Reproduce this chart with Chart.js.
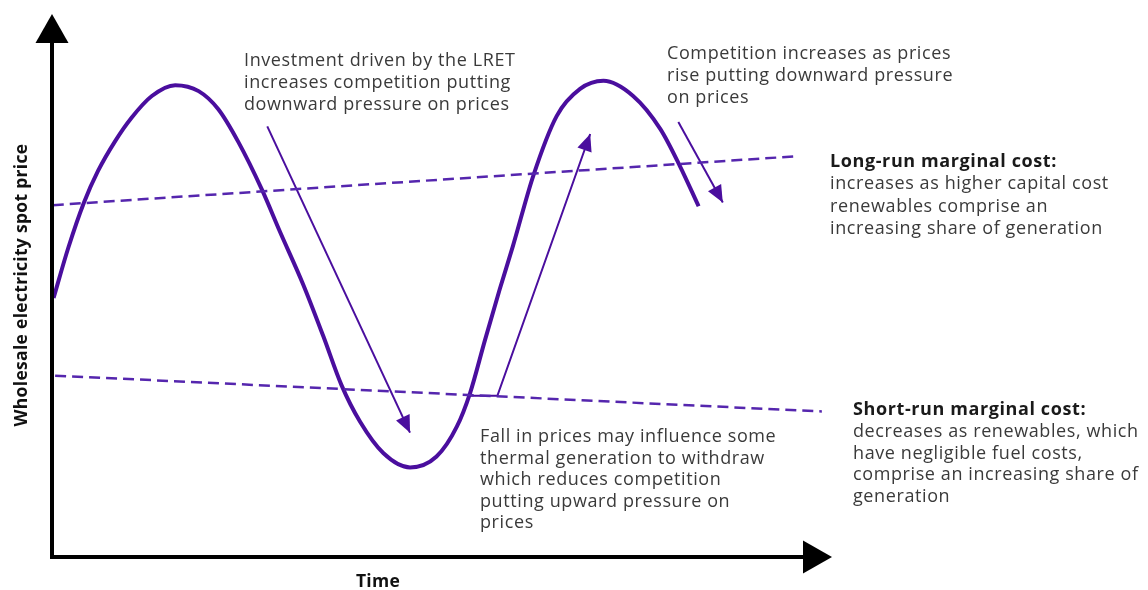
<!DOCTYPE html>
<html><head><meta charset="utf-8">
<script src="https://cdn.jsdelivr.net/npm/chart.js@4"></script>
<style>html,body{margin:0;padding:0;background:#fff;}#wrap{width:1148px;height:590px;position:relative;}</style>
</head><body><div id="wrap"><canvas id="c" width="1148" height="590"></canvas></div>
<script>
// Wholesale spot price cycle (time 0-100, price index 0-100)
const timeX     = [0.2, 2.1, 4.1, 5.9, 8.1, 10.2, 12.8, 15.8, 18.8, 21.3, 23.9, 26.9, 29.2, 32.2, 34.8, 37.1, 39.5, 42.5, 45.9, 49.3, 51.9, 53.6, 55.5, 57.4, 59.1, 61.7, 64.7, 67.7, 70.7, 74.5, 78.0, 80.5, 82.9];
const spotPrice = [47.7, 57.0, 65.3, 71.1, 76.6, 80.9, 84.9, 86.9, 85.8, 82.5, 76.4, 67.7, 60.0, 50.2, 40.6, 31.7, 24.9, 19.1, 16.5, 18.5, 24.0, 30.2, 39.9, 49.3, 57.3, 70.2, 81.2, 86.2, 87.7, 84.9, 78.8, 72.0, 64.6];
// Long-run and short-run marginal cost lines
const lrmcX = [0.1, 95.5];
const lrmcY = [64.8, 73.8];
const srmcX = [0.4, 98.7];
const srmcY = [33.4, 26.8];
// Explanatory arrows
const arrowDownX = [27.6, 45.9];
const arrowDownY = [79.3, 22.9];
const arrowUpX   = [53.6, 57.1, 69.0];
const arrowUpY   = [29.7, 29.7, 77.9];
const arrowEndX  = [80.3, 86.0];
const arrowEndY  = [80.1, 65.3];
// Text
const xTitle = 'Time';
const yTitle = 'Wholesale electricity spot price';
const noteLret = ['Investment driven by the LRET', 'increases competition putting', 'downward pressure on prices'];
const noteRise = ['Competition increases as prices', 'rise putting downward pressure', 'on prices'];
const noteLong = ['Long-run marginal cost:', 'increases as higher capital cost', 'renewables comprise an', 'increasing share of generation'];
const noteShort = ['Short-run marginal cost:', 'decreases as renewables, which', 'have negligible fuel costs,', 'comprise an increasing share of', 'generation'];
const noteFall = ['Fall in prices may influence some', 'thermal generation to withdraw', 'which reduces competition', 'putting upward pressure on', 'prices'];

const pts = (xs, ys) => xs.map((x, i) => ({x: x, y: ys[i]}));
const PURPLE = '#4a0e9e';
const DASH = '#5526ae';

const arrowHeads = {
  id: 'arrowHeads',
  afterDatasetsDraw(chart) {
    const ctx = chart.ctx;
    chart.data.datasets.forEach((ds, i) => {
      if (!ds.arrow) return;
      const pts = chart.getDatasetMeta(i).data;
      const a = pts[pts.length - 2], b = pts[pts.length - 1];
      const ang = Math.atan2(b.y - a.y, b.x - a.x);
      const L = 17, W = 7.5;
      ctx.save();
      ctx.fillStyle = ds.borderColor;
      ctx.beginPath();
      ctx.moveTo(b.x, b.y);
      ctx.lineTo(b.x - L * Math.cos(ang) + W * Math.sin(ang), b.y - L * Math.sin(ang) - W * Math.cos(ang));
      ctx.lineTo(b.x - L * Math.cos(ang) - W * Math.sin(ang), b.y - L * Math.sin(ang) + W * Math.cos(ang));
      ctx.closePath();
      ctx.fill();
      ctx.restore();
    });
  }
};

const frame = {
  id: 'frame',
  afterDraw(chart, args, o) {
    const ctx = chart.ctx, ca = chart.chartArea;
    ctx.save();
    ctx.strokeStyle = '#000'; ctx.fillStyle = '#000'; ctx.lineWidth = 4;
    const hl = 29, hw = 16.5;
    ctx.beginPath();
    ctx.moveTo(ca.left, ca.bottom + 2); ctx.lineTo(ca.left, ca.top + hl);
    ctx.moveTo(ca.left - 2, ca.bottom); ctx.lineTo(ca.right - hl, ca.bottom);
    ctx.stroke();
    ctx.beginPath();
    ctx.moveTo(ca.left, ca.top); ctx.lineTo(ca.left - hw, ca.top + hl); ctx.lineTo(ca.left + hw, ca.top + hl); ctx.closePath(); ctx.fill();
    ctx.beginPath();
    ctx.moveTo(ca.right, ca.bottom); ctx.lineTo(ca.right - hl, ca.bottom - hw); ctx.lineTo(ca.right - hl, ca.bottom + hw); ctx.closePath(); ctx.fill();
    // axis titles
    ctx.fillStyle = '#111';
    ctx.font = '700 17.5px "Open Sans"';
    ctx.textAlign = 'center'; ctx.textBaseline = 'middle';
    ctx.letterSpacing = '0.3px';
    ctx.fillText(xTitle, o.xTitleX, o.xTitleY);
    ctx.save();
    ctx.translate(o.yTitleX, o.yTitleY); ctx.rotate(-Math.PI / 2);
    ctx.fillText(yTitle, 0, 0);
    ctx.restore();
    // notes
    ctx.textAlign = 'left'; ctx.textBaseline = 'alphabetic';
    ctx.letterSpacing = o.spacing;
    o.notes.forEach(n => {
      n.lines.forEach((t, k) => {
        const bold = n.heading && k === 0;
        ctx.font = (bold ? '700 ' : '400 ') + o.size + 'px "Open Sans"';
        ctx.fillStyle = bold ? '#1a1a1a' : '#3a3a3a';
        ctx.fillText(t, n.x, n.y + k * n.lh);
      });
    });
    ctx.restore();
  }
};

new Chart(document.getElementById('c'), {
  type: 'line',
  data: {
    datasets: [
      {data: pts(lrmcX, lrmcY), borderColor: DASH, borderWidth: 2.5, borderDash: [11, 6], tension: 0},
      {data: pts(srmcX, srmcY), borderColor: DASH, borderWidth: 2.5, borderDash: [11, 6], tension: 0},
      {data: pts(timeX, spotPrice), borderColor: PURPLE, borderWidth: 4, cubicInterpolationMode: 'monotone', borderJoinStyle: 'round'},
      {data: pts(arrowDownX, arrowDownY), borderColor: PURPLE, borderWidth: 2, tension: 0, arrow: true},
      {data: pts(arrowUpX, arrowUpY), borderColor: PURPLE, borderWidth: 2, tension: 0, arrow: true},
      {data: pts(arrowEndX, arrowEndY), borderColor: PURPLE, borderWidth: 2, tension: 0, arrow: true}
    ]
  },
  options: {
    responsive: false, devicePixelRatio: 1, animation: false,
    layout: {padding: {left: 52, top: 14, right: 316, bottom: 33}},
    elements: {point: {radius: 0, hoverRadius: 0}, line: {borderCapStyle: 'butt', fill: false}},
    scales: {
      x: {type: 'linear', min: 0, max: 100, display: false},
      y: {type: 'linear', min: 0, max: 100, display: false}
    },
    plugins: {
      legend: {display: false}, tooltip: {enabled: false},
      frame: {
        xTitleX: 378, xTitleY: 582, yTitleX: 22, yTitleY: 285,
        size: 18, spacing: '0.6px',
        notes: [
          {lines: noteLret, x: 244, y: 66, lh: 22},
          {lines: noteRise, x: 667, y: 59, lh: 22},
          {lines: noteLong, x: 830, y: 167, lh: 22.3, heading: true},
          {lines: noteShort, x: 853, y: 415, lh: 21.8, heading: true},
          {lines: noteFall, x: 480, y: 442, lh: 21.5}
        ]
      }
    }
  },
  plugins: [arrowHeads, frame]
});
</script></body></html>
